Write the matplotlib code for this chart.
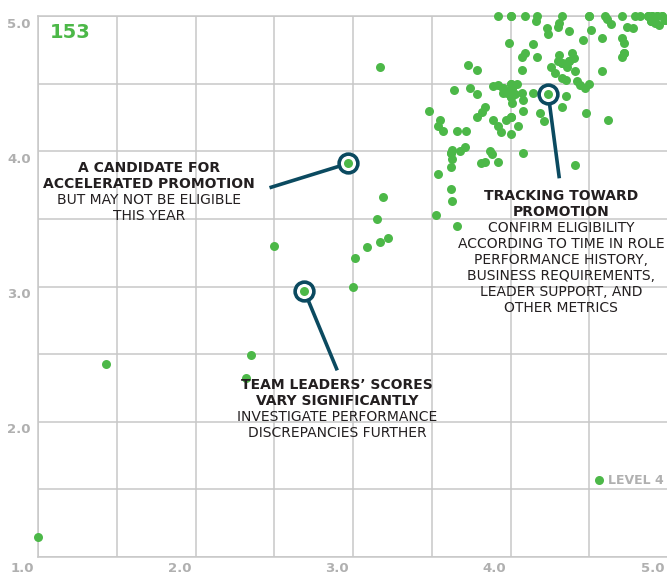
import matplotlib
matplotlib.use("Agg")
import matplotlib.pyplot as plt
from matplotlib.lines import Line2D

# dane: oceny (os x, os y), 153 osoby
score_x = [3.92, 4.00, 4.09, 4.17, 4.33, 4.50, 4.60, 4.71, 4.79, 4.82, 4.87, 4.90, 4.93, 4.96,
           4.16, 4.31, 4.61, 4.64, 4.89, 4.92, 4.94, 4.98, 4.30, 4.23, 4.24, 4.37, 4.51, 4.74, 4.78,
           3.99, 4.14, 4.09, 4.07, 4.17, 4.58, 4.46, 4.71, 4.72, 4.72, 4.71,
           3.73, 3.79, 4.07, 4.31, 4.30, 4.33, 4.37, 4.39, 4.40, 4.36, 4.26, 4.28, 4.41,
           4.33, 4.35, 4.42, 4.44, 4.47, 4.50, 4.58,
           3.64, 3.74, 3.79, 3.89, 3.92, 3.95, 3.95, 3.98, 4.00, 4.04, 4.01, 4.00, 4.00, 4.01, 4.03,
           4.07, 4.14, 4.08, 4.08, 4.35, 4.33, 4.19, 4.21, 4.48, 4.62,
           3.48, 3.55, 3.54, 3.57, 3.66, 3.72, 3.84, 3.82, 3.79, 3.89, 3.92, 3.94, 3.97, 4.00, 4.05, 4.00,
           3.62, 3.63, 3.68, 3.71, 3.63, 3.62, 3.87, 3.88, 3.81, 3.84, 4.08, 4.41,
           3.54, 3.62, 3.63, 3.53, 3.66,
           3.17, 3.19, 3.15, 3.09, 3.17, 3.22, 3.01, 3.00,
           2.97, 2.69, 4.24,
           2.50, 2.35, 2.32, 1.43, 1.00,
           4.00, 4.50, 4.90, 4.96, 4.93, 4.87, 4.00, 4.01, 4.00, 4.00, 3.95, 4.33, 4.37, 4.72,
           4.89, 4.98, 3.62, 4.00, 3.92]
score_y = [5.00, 5.00, 5.00, 5.00, 5.00, 5.00, 5.00, 5.00, 5.00, 5.00, 5.00, 5.00, 5.00, 5.00,
           4.96, 4.95, 4.98, 4.94, 4.96, 4.95, 4.93, 4.97, 4.92, 4.91, 4.87, 4.89, 4.90, 4.92, 4.91,
           4.80, 4.79, 4.73, 4.70, 4.70, 4.84, 4.82, 4.84, 4.80, 4.73, 4.70,
           4.64, 4.60, 4.60, 4.71, 4.67, 4.65, 4.67, 4.73, 4.69, 4.62, 4.62, 4.58, 4.59,
           4.54, 4.53, 4.52, 4.49, 4.47, 4.50, 4.59,
           4.45, 4.47, 4.42, 4.48, 4.49, 4.47, 4.43, 4.43, 4.50, 4.50, 4.47, 4.44, 4.40, 4.36, 4.42,
           4.43, 4.43, 4.38, 4.30, 4.41, 4.33, 4.28, 4.22, 4.28, 4.23,
           4.30, 4.23, 4.19, 4.15, 4.15, 4.15, 4.33, 4.29, 4.25, 4.23, 4.19, 4.14, 4.23, 4.25, 4.19, 4.13,
           3.99, 4.01, 4.00, 4.03, 3.94, 3.88, 4.00, 3.98, 3.91, 3.92, 3.99, 3.90,
           3.83, 3.72, 3.63, 3.53, 3.45,
           4.62, 3.66, 3.50, 3.29, 3.33, 3.36, 3.21, 3.00,
           3.91, 2.97, 4.42,
           3.30, 2.49, 2.32, 2.43, 1.15,
           5.00, 5.00, 5.00, 5.00, 5.00, 5.00, 4.50, 4.47, 4.44, 4.40, 4.47, 4.65, 4.67, 4.73,
           4.96, 4.97, 3.99, 4.25, 3.92]

# wyroznione punkty i konce linii do opisow
callout_x = [2.97, 2.69, 4.24]
callout_y = [3.91, 2.97, 4.42]
leader_x = [2.47, 2.90, 4.31]
leader_y = [3.73, 2.38, 3.80]

callout_texts = [
    (149, 168, [("A CANDIDATE FOR", "bold"), ("ACCELERATED PROMOTION", "bold"),
                ("BUT MAY NOT BE ELIGIBLE", "normal"), ("THIS YEAR", "normal")]),
    (337, 385, [("TEAM LEADERS\u2019 SCORES", "bold"), ("VARY SIGNIFICANTLY", "bold"),
                ("INVESTIGATE PERFORMANCE", "normal"), ("DISCREPANCIES FURTHER", "normal")]),
    (561, 196, [("TRACKING TOWARD", "bold"), ("PROMOTION", "bold"),
                ("CONFIRM ELIGIBILITY", "normal"), ("ACCORDING TO TIME IN ROLE", "normal"),
                ("PERFORMANCE HISTORY,", "normal"), ("BUSINESS REQUIREMENTS,", "normal"),
                ("LEADER SUPPORT, AND", "normal"), ("OTHER METRICS", "normal")]),
]

x_ticks = [1.0, 2.0, 3.0, 4.0, 5.0]
y_ticks = [2.0, 3.0, 4.0, 5.0]

GREEN = "#4cb848"
TEAL = "#0b4a60"
GRID = "#c8c8c8"
LABEL_GRAY = "#b0b0b0"
DARK = "#231f20"
W, H = 667, 573
PT = 0.72  # 1 px w punktach przy dpi=100

fig = plt.figure(figsize=(W / 100, H / 100), dpi=100)
ax = fig.add_axes([38 / W, 16 / H, 630 / W, 541 / H])
ax.set_xlim(1, 5)
ax.set_ylim(1, 5)

half_steps = [1.0, 1.5, 2.0, 2.5, 3.0, 3.5, 4.0, 4.5, 5.0]
ax.set_xticks(half_steps)
ax.set_yticks(half_steps)
ax.tick_params(length=0, labelbottom=False, labelleft=False)
ax.grid(color=GRID, linewidth=1.1)
ax.set_axisbelow(True)
for side in ["left", "bottom", "top"]:
    ax.spines[side].set_color(GRID)
    ax.spines[side].set_linewidth(1.1)
ax.spines["right"].set_visible(False)

ax.scatter(score_x, score_y, s=42, color=GREEN, linewidths=0, zorder=3, clip_on=False)

# linie do opisow i obwodki
for cx, cy, lx, ly in zip(callout_x, callout_y, leader_x, leader_y):
    ax.plot([cx, lx], [cy, ly], color=TEAL, linewidth=2.6, solid_capstyle="butt", zorder=4)
ax.plot(callout_x, callout_y, linestyle="none", marker="o", markersize=13.5,
        markerfacecolor="white", markeredgecolor=TEAL, markeredgewidth=2.6, zorder=5)
ax.scatter(callout_x, callout_y, s=42, color=GREEN, linewidths=0, zorder=6)

# etykiety osi
for v in x_ticks:
    ax.annotate(f"{v:.1f}", xy=(v, 1.0), xytext=(-4 * PT, -11 * PT), textcoords="offset points",
                ha="right", va="center", fontsize=9.5, fontweight="bold", color=LABEL_GRAY,
                annotation_clip=False)
for v in y_ticks:
    ax.annotate(f"{v:.1f}", xy=(1.0, v), xytext=(-7 * PT, -8 * PT), textcoords="offset points",
                ha="right", va="center", fontsize=9.5, fontweight="bold", color=LABEL_GRAY,
                annotation_clip=False)

# opisy
for cx_px, top_px, lines in callout_texts:
    for i, (txt, weight) in enumerate(lines):
        fig.text(cx_px / W, 1 - (top_px + 16 * i) / H, txt, ha="center", va="center",
                 fontsize=10, fontweight=weight, color=DARK)

fig.text(50 / W, 1 - 33 / H, "153", ha="left", va="center", fontsize=14,
         fontweight="bold", color=GREEN)

# legenda
fig.add_artist(Line2D([599 / W], [1 - 480 / H], marker="o", markersize=6.5, color=GREEN,
                      markeredgewidth=0, linestyle="none"))
fig.text(608 / W, 1 - 481 / H, "LEVEL 4", ha="left", va="center", fontsize=9,
         fontweight="bold", color=LABEL_GRAY)

fig.savefig("out.png", dpi=100)
